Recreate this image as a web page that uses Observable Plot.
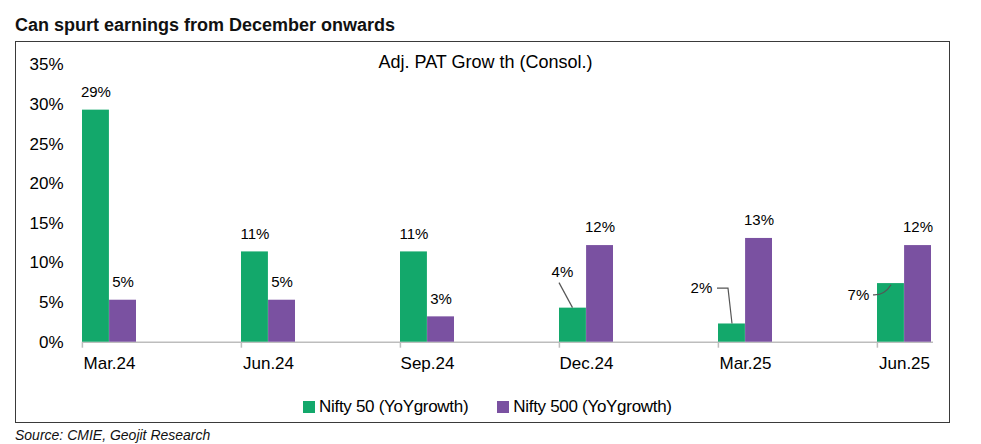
<!DOCTYPE html>
<html>
<head>
<meta charset="utf-8">
<script src="https://cdn.jsdelivr.net/npm/d3@7"></script>
<script src="https://cdn.jsdelivr.net/npm/@observablehq/plot@0.6"></script>
<style>
  body { margin:0; width:981px; height:444px; position:relative; background:#fff;
         font-family:"Liberation Sans", Arial, Helvetica, sans-serif; color:#000; overflow:hidden; }
  #title { position:absolute; left:15px; top:15.8px; font-weight:bold; font-size:18px; line-height:1; white-space:nowrap; color:#111; }
  #box { position:absolute; left:15px; top:41px; width:933px; height:380px; border:1px solid #3a3a3a; }
  #chart { position:absolute; left:0; top:0; }
  #legend { position:absolute; left:287px; top:356px; display:flex; align-items:center; font-size:17px; letter-spacing:-0.3px; line-height:1; white-space:nowrap; }
  .sw { display:inline-block; width:12px; height:12px; margin-right:4px; }
  #source { position:absolute; left:15px; top:427.6px; font-style:italic; font-size:14px; line-height:1; white-space:nowrap; color:#111; }
</style>
</head>
<body>
<div id="title">Can spurt earnings from December onwards</div>
<div id="box">
  <div id="chart"></div>
  <div id="legend"></div>
</div>
<div id="source">Source: CMIE, Geojit Research</div>
<script>
const categories = ["Mar.24", "Jun.24", "Sep.24", "Dec.24", "Mar.25", "Jun.25"];
const seriesNames = ["Nifty 50 (YoYgrowth)", "Nifty 500 (YoYgrowth)"];
const nifty50 = [29.3, 11.4, 11.4, 4.3, 2.3, 7.4];
const nifty500 = [5.3, 5.3, 3.2, 12.2, 13.1, 12.2];
const yTicks = [0, 5, 10, 15, 20, 25, 30, 35];
const chartTitle = "Adj. PAT Grow th (Consol.)";

const colors = ["#13a86b", "#7a51a1"];

const W = 933, H = 340, ML = 66, MR = 16, MT = 22.5, MB = 40.3;
const PI = 0.66;
const bw = (W - ML - MR) / (categories.length - PI) * (1 - PI);

const d50 = categories.map((c, i) => ({cat: c, v: nifty50[i]}));
const d500 = categories.map((c, i) => ({cat: c, v: nifty500[i]}));
const fmt = v => Math.round(v) + "%";

// special green label placements (relative to bar top centre), others sit above the bar
const special = {
  "Dec.24": {dx: -10.5, dy: -35.7},
  "Mar.25": {dx: -30.5, dy: -35.3},
  "Jun.25": {dx: -32.5, dy: 11.7}
};
const d50std = d50.filter(d => !special[d.cat]);
const d50sp = d50.filter(d => special[d.cat]);

const marks = [
  Plot.ruleY([0], {stroke: "#bdbdbd", strokeWidth: 1.5}),
  Plot.axisX({tickSize: 6, tickFormat: () => "", dx: -bw / 2, stroke: "#bdbdbd", strokeWidth: 1.5}),
  Plot.axisX({tickSize: 0, tickPadding: 15, fontSize: 17}),
  Plot.axisY({ticks: yTicks, tickFormat: d => d + "%", tickSize: 0, tickPadding: 19, fontSize: 17}),
  Plot.barY(d50, {x: "cat", y: "v", fill: colors[0], insetRight: bw / 2}),
  Plot.barY(d500, {x: "cat", y: "v", fill: colors[1], insetLeft: bw / 2}),
  Plot.text(d50std, {x: "cat", y: "v", text: d => fmt(d.v), dx: -bw / 4, dy: -18, fontSize: 15}),
  Plot.text(d500, {x: "cat", y: "v", text: d => fmt(d.v), dx: bw / 4, dy: -18, fontSize: 15}),
  ...d50sp.map(d => Plot.text([d], {x: "cat", y: "v", text: d => fmt(d.v), dx: -bw / 4 + special[d.cat].dx, dy: special[d.cat].dy, fontSize: 15})),
  Plot.text([chartTitle], {text: d => d, frameAnchor: "top", dx: -22.5, dy: -3, fontSize: 18, lineAnchor: "middle"})
];

const plot = Plot.plot({
  width: W, height: H,
  marginLeft: ML, marginRight: MR, marginTop: MT, marginBottom: MB,
  style: {fontFamily: "'Liberation Sans', Arial, sans-serif", color: "#000", background: "transparent", overflow: "visible"},
  x: {type: "band", domain: categories, paddingInner: PI, paddingOuter: 0, align: 0, label: null},
  y: {domain: [0, 35], label: null},
  marks
});
document.getElementById("chart").appendChild(plot);

// leader lines for the offset labels, positioned through Plot's scales
const xs = plot.scale("x"), ys = plot.scale("y");
const svg = d3.select(plot);
const g = svg.append("g").attr("fill", "none").attr("stroke", "#555").attr("stroke-width", 1.2);
for (const d of d50sp) {
  const bx = xs.apply(d.cat) + xs.bandwidth / 4;
  const by = ys.apply(d.v);
  let path;
  if (d.cat === "Dec.24") path = `M${bx - 13.5},${by - 25}L${bx},${by}`;
  else if (d.cat === "Mar.25") path = `M${bx - 14.5},${by - 35.3}L${bx - 3.5},${by - 35.3}L${bx + 0.5},${by}`;
  else path = `M${bx - 17.5},${by + 11.7}Q${bx - 6},${by + 12.5} ${bx + 0.5},${by + 1.7}`;
  g.append("path").attr("d", path);
}

// legend
const lg = document.getElementById("legend");
seriesNames.forEach((n, i) => {
  const item = document.createElement("span");
  item.style.display = "inline-flex";
  item.style.alignItems = "center";
  if (i > 0) item.style.marginLeft = "29px";
  item.innerHTML = `<span class="sw" style="background:${colors[i]}"></span><span>${n}</span>`;
  lg.appendChild(item);
});
</script>
</body>
</html>
